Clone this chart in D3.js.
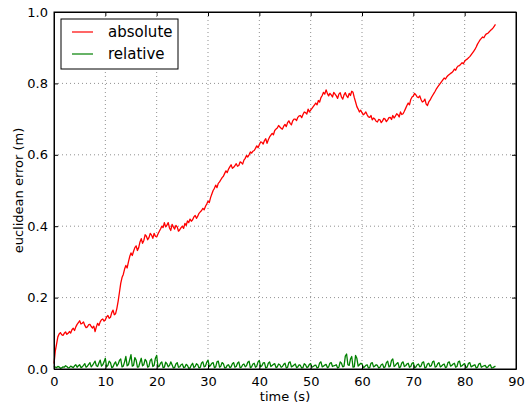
<!DOCTYPE html>
<html>
<head>
<meta charset="utf-8">
<script src="https://cdn.jsdelivr.net/npm/d3@7"></script>
<style>
  body { margin: 0; background: #fff; }
  svg text { font-family: "DejaVu Sans", sans-serif; }
</style>
</head>
<body>
<div id="chart"></div>
<script>
// sample spacing of both series (seconds)
const step = 0.25;

// absolute error, one value every 0.25 s from t = 0
const absoluteErr = [
  0.015, 0.05, 0.07, 0.09, 0.098, 0.102, 0.096, 0.094, 0.1, 0.104,
  0.097, 0.1, 0.105, 0.101, 0.11, 0.114, 0.108, 0.118, 0.125, 0.13,
  0.135, 0.126, 0.128, 0.132, 0.122, 0.116, 0.118, 0.124, 0.125, 0.119,
  0.115, 0.12, 0.105, 0.118, 0.128, 0.122, 0.132, 0.138, 0.14, 0.134,
  0.138, 0.146, 0.15, 0.142, 0.145, 0.158, 0.165, 0.152, 0.155, 0.17,
  0.19, 0.215, 0.24, 0.256, 0.265, 0.28, 0.29, 0.283, 0.3, 0.315,
  0.325, 0.318, 0.33, 0.34, 0.345, 0.332, 0.34, 0.356, 0.365, 0.352,
  0.36, 0.376, 0.372, 0.362, 0.368, 0.38, 0.375, 0.366, 0.38, 0.372,
  0.37, 0.378, 0.385, 0.392, 0.4, 0.396, 0.41, 0.398, 0.403, 0.41,
  0.395, 0.388, 0.405, 0.398, 0.392, 0.402, 0.398, 0.386, 0.39, 0.396,
  0.4, 0.394, 0.408, 0.402, 0.415, 0.41, 0.42, 0.414, 0.418, 0.426,
  0.43, 0.422, 0.428, 0.436, 0.44, 0.444, 0.45, 0.446, 0.455, 0.462,
  0.47, 0.466, 0.48, 0.49, 0.5, 0.506, 0.515, 0.508, 0.52, 0.524,
  0.53, 0.536, 0.54, 0.548, 0.555, 0.55, 0.56, 0.566, 0.572, 0.562,
  0.565, 0.57, 0.575, 0.568, 0.57, 0.58, 0.578, 0.574, 0.585, 0.59,
  0.598, 0.594, 0.6, 0.608, 0.605, 0.61, 0.612, 0.618, 0.625, 0.62,
  0.628, 0.636, 0.635, 0.63, 0.64, 0.645, 0.632, 0.642, 0.65, 0.655,
  0.66, 0.656, 0.668, 0.672, 0.675, 0.682, 0.678, 0.674, 0.672, 0.68,
  0.685, 0.679, 0.69, 0.695, 0.688, 0.684, 0.695, 0.7, 0.7, 0.696,
  0.705, 0.709, 0.71, 0.704, 0.713, 0.72, 0.718, 0.714, 0.728, 0.72,
  0.725, 0.73, 0.735, 0.74, 0.745, 0.74, 0.752, 0.748, 0.76, 0.766,
  0.775, 0.77, 0.782, 0.772, 0.765, 0.772, 0.768, 0.762, 0.775, 0.77,
  0.765, 0.758, 0.77, 0.774, 0.762, 0.756, 0.768, 0.774, 0.765, 0.76,
  0.772, 0.766, 0.778, 0.775, 0.76, 0.748, 0.735, 0.728, 0.72, 0.725,
  0.718, 0.712, 0.715, 0.72, 0.712, 0.706, 0.705, 0.71, 0.698, 0.703,
  0.7, 0.694, 0.692, 0.699, 0.698, 0.69, 0.695, 0.702, 0.7, 0.693,
  0.698, 0.704, 0.705, 0.699, 0.71, 0.703, 0.708, 0.715, 0.712, 0.706,
  0.72, 0.713, 0.715, 0.722, 0.73, 0.738, 0.745, 0.74, 0.755, 0.762,
  0.765, 0.772, 0.768, 0.762, 0.76, 0.765, 0.755, 0.748, 0.75, 0.756,
  0.742, 0.738, 0.748, 0.753, 0.76, 0.766, 0.772, 0.778, 0.785, 0.79,
  0.795, 0.8, 0.805, 0.81, 0.815, 0.812, 0.818, 0.822, 0.825, 0.828,
  0.83, 0.834, 0.84, 0.837, 0.845, 0.849, 0.85, 0.854, 0.858, 0.855,
  0.862, 0.866, 0.868, 0.872, 0.875, 0.88, 0.885, 0.89, 0.895, 0.902,
  0.91, 0.916, 0.922, 0.926, 0.93, 0.928, 0.935, 0.939, 0.94, 0.944,
  0.948, 0.951, 0.955, 0.96, 0.965
];

// relative error, same sampling
const relativeErr = [
  0.008, 0.005, 0.004, 0.007, 0.006, 0.002, 0.003, 0.006, 0.005, 0.009,
  0.007, 0.003, 0.004, 0.008, 0.006, 0.004, 0.009, 0.012, 0.005, 0.009,
  0.012, 0.004, 0.006, 0.01, 0.015, 0.005, 0.008, 0.013, 0.018, 0.006,
  0.01, 0.016, 0.022, 0.009, 0.007, 0.017, 0.025, 0.008, 0.012, 0.02,
  0.03, 0.006, 0.01, 0.022, 0.018, 0.004, 0.006, 0.015, 0.02, 0.008,
  0.014, 0.024, 0.028, 0.006, 0.008, 0.02, 0.035, 0.009, 0.012, 0.026,
  0.04, 0.008, 0.01, 0.032, 0.025, 0.005, 0.006, 0.019, 0.03, 0.009,
  0.012, 0.027, 0.022, 0.005, 0.008, 0.024, 0.028, 0.007, 0.01, 0.03,
  0.038, 0.006, 0.008, 0.016, 0.02, 0.004, 0.005, 0.019, 0.015, 0.006,
  0.01, 0.02, 0.012, 0.003, 0.004, 0.014, 0.018, 0.005, 0.006, 0.012,
  0.014, 0.004, 0.005, 0.013, 0.01, 0.002, 0.003, 0.011, 0.016, 0.004,
  0.007, 0.015, 0.012, 0.003, 0.005, 0.017, 0.02, 0.006, 0.008, 0.019,
  0.025, 0.007, 0.01, 0.016, 0.018, 0.004, 0.006, 0.02, 0.022, 0.005,
  0.008, 0.018, 0.015, 0.003, 0.004, 0.01, 0.012, 0.004, 0.006, 0.015,
  0.018, 0.005, 0.007, 0.016, 0.02, 0.004, 0.005, 0.012, 0.014, 0.006,
  0.009, 0.019, 0.022, 0.004, 0.006, 0.014, 0.016, 0.005, 0.008, 0.02,
  0.024, 0.006, 0.009, 0.017, 0.018, 0.003, 0.005, 0.016, 0.02, 0.007,
  0.01, 0.013, 0.015, 0.004, 0.006, 0.014, 0.012, 0.005, 0.007, 0.013,
  0.016, 0.003, 0.005, 0.018, 0.02, 0.006, 0.008, 0.011, 0.014, 0.004,
  0.006, 0.012, 0.01, 0.003, 0.004, 0.015, 0.012, 0.004, 0.006, 0.013,
  0.015, 0.005, 0.007, 0.01, 0.011, 0.003, 0.005, 0.017, 0.02, 0.006,
  0.008, 0.011, 0.013, 0.004, 0.006, 0.016, 0.018, 0.007, 0.009, 0.01,
  0.012, 0.003, 0.005, 0.02, 0.016, 0.006, 0.008, 0.036, 0.042, 0.012,
  0.01, 0.028, 0.035, 0.005, 0.006, 0.038, 0.03, 0.008, 0.012, 0.016,
  0.015, 0.004, 0.006, 0.01, 0.012, 0.003, 0.004, 0.016, 0.018, 0.006,
  0.008, 0.012, 0.01, 0.003, 0.005, 0.012, 0.014, 0.004, 0.006, 0.018,
  0.022, 0.006, 0.008, 0.024, 0.028, 0.007, 0.01, 0.015, 0.018, 0.004,
  0.006, 0.017, 0.02, 0.007, 0.009, 0.014, 0.016, 0.005, 0.007, 0.016,
  0.018, 0.004, 0.006, 0.012, 0.014, 0.006, 0.008, 0.018, 0.02, 0.003,
  0.005, 0.014, 0.016, 0.007, 0.009, 0.02, 0.022, 0.005, 0.007, 0.015,
  0.018, 0.006, 0.008, 0.012, 0.014, 0.004, 0.006, 0.018, 0.02, 0.008,
  0.01, 0.014, 0.016, 0.005, 0.007, 0.02, 0.022, 0.007, 0.009, 0.013,
  0.015, 0.004, 0.006, 0.016, 0.018, 0.006, 0.008, 0.01, 0.012, 0.003,
  0.005, 0.014, 0.016, 0.005, 0.007, 0.009, 0.01, 0.004, 0.005, 0.01,
  0.012, 0.003, 0.004, 0.006, 0.008
];

const xTicks = [0, 10, 20, 30, 40, 50, 60, 70, 80, 90];
const yTicks = [0.0, 0.2, 0.4, 0.6, 0.8, 1.0];

const seriesNames = ["absolute", "relative"];
const seriesColors = ["#ff0000", "#008000"];

const W = 525, H = 405;
const margin = {top: 12, right: 9, bottom: 36, left: 54};
const width = W - margin.left - margin.right;
const height = H - margin.top - margin.bottom;

const svg = d3.select("#chart").append("svg")
  .attr("width", W)
  .attr("height", H);

const g = svg.append("g")
  .attr("transform", `translate(${margin.left},${margin.top})`);

const x = d3.scaleLinear().domain([0, 90]).range([0, width]);
const y = d3.scaleLinear().domain([0, 1]).range([height, 0]);

// dotted grid
g.append("g")
  .selectAll("line")
  .data(xTicks.slice(1, -1))
  .enter().append("line")
  .attr("x1", d => x(d)).attr("x2", d => x(d))
  .attr("y1", 0).attr("y2", height)
  .attr("stroke", "#444").attr("stroke-width", 0.6)
  .attr("stroke-dasharray", "1,3");

g.append("g")
  .selectAll("line")
  .data(yTicks.slice(1, -1))
  .enter().append("line")
  .attr("x1", 0).attr("x2", width)
  .attr("y1", d => y(d)).attr("y2", d => y(d))
  .attr("stroke", "#444").attr("stroke-width", 0.6)
  .attr("stroke-dasharray", "1,3");

// data lines
const line = d3.line()
  .x((d, i) => x(i * step))
  .y(d => y(d));

[absoluteErr, relativeErr].forEach((vals, k) => {
  g.append("path")
    .datum(vals)
    .attr("fill", "none")
    .attr("stroke", seriesColors[k])
    .attr("stroke-width", 1.3)
    .attr("stroke-linejoin", "round")
    .attr("d", line);
});

// axes, ticks pointing inward
g.append("g")
  .attr("transform", `translate(0,${height})`)
  .call(d3.axisBottom(x).tickValues(xTicks).tickSizeInner(-4).tickSizeOuter(0).tickPadding(8));
g.append("g")
  .call(d3.axisLeft(y).tickValues(yTicks).tickFormat(d3.format(".1f")).tickSizeInner(-4).tickSizeOuter(0).tickPadding(6));
g.append("g")
  .call(d3.axisTop(x).tickValues(xTicks).tickFormat("").tickSizeInner(-4).tickSizeOuter(0));
g.append("g")
  .attr("transform", `translate(${width},0)`)
  .call(d3.axisRight(y).tickValues(yTicks).tickFormat("").tickSizeInner(-4).tickSizeOuter(0));

g.selectAll(".domain").attr("stroke", "#000");
g.selectAll(".tick line").attr("stroke", "#000");
g.selectAll(".tick text")
  .attr("font-size", 13)
  .attr("fill", "#000")
  .style("font-family", "DejaVu Sans, sans-serif");

// frame
g.append("rect")
  .attr("width", width).attr("height", height)
  .attr("fill", "none").attr("stroke", "#000").attr("stroke-width", 1);

// axis labels
svg.append("text")
  .attr("x", margin.left + width / 2)
  .attr("y", 401)
  .attr("text-anchor", "middle")
  .attr("font-size", 13)
  .text("time (s)");

svg.append("text")
  .attr("transform", `translate(23,${margin.top + height / 2}) rotate(-90)`)
  .attr("text-anchor", "middle")
  .attr("font-size", 13)
  .text("euclidean error (m)");

// legend
const legend = g.append("g").attr("transform", "translate(7,7)");
legend.append("rect")
  .attr("width", 117).attr("height", 50)
  .attr("fill", "#fff").attr("stroke", "#000").attr("stroke-width", 1);

const items = legend.selectAll("g")
  .data(seriesNames)
  .enter().append("g")
  .attr("transform", (d, i) => `translate(0,${13 + i * 22})`);

items.append("line")
  .attr("x1", 11).attr("x2", 32)
  .attr("stroke", (d, i) => seriesColors[i])
  .attr("stroke-width", 1.2);

items.append("text")
  .attr("x", 47).attr("y", 5)
  .attr("font-size", 15)
  .text(d => d);
</script>
</body>
</html>
